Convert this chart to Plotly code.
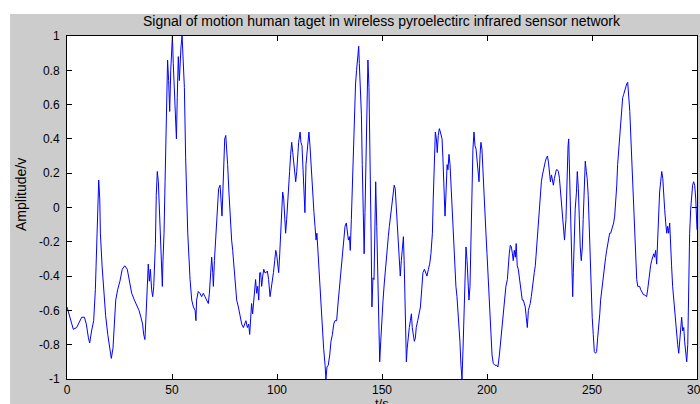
import plotly.graph_objects as go

# time axis (s) and signal amplitude (v)
t_s = [
    0, 1.0, 3.0, 4.6, 7.0, 8.3, 9.2, 10.2, 10.8, 11.7, 12.7, 13.5, 14.0, 14.3, 14.8, 15.1, 15.6, 15.9, 16.7, 17.5,
    18.4, 19.4, 20.3, 21.1, 21.9, 22.5, 23.2, 24.1, 25.2, 26.3, 27.5, 28.7, 29.7, 30.8, 32.1, 33.2, 34.3, 35.2, 36.0, 36.5,
    37.1, 37.6, 38.1, 38.7, 39.2, 39.7, 40.3, 40.8, 41.3, 42.1, 42.5, 43.0, 43.5, 44.0, 44.4, 44.9, 45.4, 45.7, 46.2, 46.7,
    47.0, 47.5, 47.9, 48.4, 48.9, 49.4, 49.8, 50.2, 50.6, 51.1, 51.6, 52.1, 52.5, 53.0, 53.5, 53.8, 54.3, 54.8, 55.4, 55.9,
    56.5, 57.5, 58.6,
    59.4, 60.2, 61.0, 61.4, 61.7, 62.5, 63.3, 64.1, 64.9, 65.7, 66.5, 67.3, 67.8, 68.4, 68.9, 69.4, 69.7, 70.2, 70.6, 71.3,
    71.8, 72.2, 72.9, 73.3, 73.8, 74.1, 74.6, 75.1, 75.6, 76.0, 76.5, 77.1, 77.8, 78.4, 78.9, 79.4, 80.0, 80.8, 81.6, 82.4,
    83.2, 84.0, 84.6, 85.2, 85.9, 86.5, 87.0, 87.4, 87.9, 88.4, 88.9, 89.4, 89.8, 90.3, 90.8, 91.3, 91.8, 92.2, 92.7, 93.2,
    93.7, 94.2, 94.8, 95.4, 96.0, 96.7, 97.2, 97.6, 98.3, 98.9, 99.4, 99.8, 100.3, 100.8, 101.3, 101.7, 102.2, 102.7, 103.2, 103.7,
    104.1, 104.6, 105.1, 105.6, 106.0, 106.5, 107.0, 107.5, 108.0, 108.4, 108.9, 109.4, 109.9, 110.3, 111.0, 111.4, 111.9, 112.4, 112.9, 113.3,
    113.8, 114.3, 114.8, 115.2, 115.7, 116.2, 116.7, 117.1, 117.6, 118.1, 118.6, 119.0,
    119.7, 120.3, 120.9, 121.6, 122.2, 122.9, 123.3, 123.8, 124.4, 125.1, 125.7, 126.4, 127.0, 127.6, 128.4, 129.2, 130.0, 130.8, 131.6, 132.4,
    133.0, 133.5, 134.0, 134.5, 134.9, 135.4, 136.0, 136.5, 137.0, 137.4, 137.9, 138.4, 138.9, 139.2, 139.7, 140.2, 140.6, 141.1, 141.5, 141.9,
    142.4, 142.9, 143.3, 143.8, 144.3, 144.8, 145.2, 145.7, 146.2, 146.7, 147.0, 147.5, 148.0, 148.5, 148.9, 149.4, 149.9, 150.5, 151.1, 151.7,
    152.4, 153.0, 153.5, 153.9, 154.4, 154.9, 155.4, 155.8, 156.3, 156.8, 157.3, 157.8, 158.2, 158.7, 159.2, 159.7, 160.2, 160.6, 161.1, 161.6,
    162.0, 162.5, 163.0, 163.5, 164.0, 164.4, 164.9, 165.4, 165.9, 166.3, 167.0, 167.6, 168.3, 168.9, 169.5, 170.2, 170.8, 171.4, 172.1, 172.7,
    173.3, 174.0, 174.4, 174.9, 175.4, 175.9, 176.3, 176.8, 177.3, 177.8,
    178.6, 179.0, 179.5, 180.0, 180.5, 181.0, 181.4, 181.9, 182.4, 182.9, 183.3, 183.8, 184.3, 184.8, 185.2, 185.7, 186.2, 186.7, 187.1, 187.6,
    188.1, 188.6, 189.0, 189.5, 190.0, 190.5, 191.0, 191.4, 191.9, 192.4, 192.9, 193.3, 193.8, 194.3, 194.8, 195.2, 195.7, 196.2, 196.7, 197.1,
    197.6, 198.1, 198.6, 199.0, 199.5, 200.0, 200.5, 201.0, 201.4, 201.9, 202.4, 203.0, 203.8, 204.6, 205.2, 205.9, 206.5, 207.1, 207.8, 208.4,
    209.0, 209.7, 210.1, 210.6, 211.1, 211.6, 212.1, 212.5, 213.0, 213.5, 213.9, 214.4, 214.9, 215.4, 215.8, 216.3, 216.8, 217.3, 217.8, 218.2,
    218.7, 219.2, 219.7, 220.2, 220.6, 221.1, 221.6, 222.1, 222.5, 223.0, 223.5, 224.0, 224.5, 224.9, 225.4, 225.9, 226.4, 226.8, 227.3, 227.8,
    228.3, 228.8, 229.3, 229.8, 230.2, 230.7, 231.2, 231.6, 232.1, 232.6, 233.0, 233.5, 234.0, 234.5, 235.0, 235.4, 235.9, 236.4, 236.9,
    237.6, 238.1, 238.6, 238.9, 239.2, 239.5, 239.8, 240.1, 240.5, 240.8, 241.1, 241.6, 242.0, 242.6, 243.0, 243.5, 244.0, 244.4, 244.9, 245.4,
    245.8, 246.3, 246.8, 247.3, 247.7, 248.2, 248.7, 249.1, 249.6, 250.1, 250.6, 251.1, 251.7, 252.2, 252.7, 253.2, 253.7, 254.1, 254.6, 255.1,
    255.6, 256.0, 256.5, 257.0, 257.5, 258.0, 258.4, 258.9, 259.4, 259.8, 260.3, 260.8, 261.3, 261.8, 262.2, 262.7, 263.2, 263.7, 264.1, 264.6,
    265.1, 265.6, 266.0, 266.5, 267.0, 267.5, 268.0, 268.4, 268.9, 269.4, 269.9, 270.3, 270.8, 271.3, 271.8, 272.3, 272.7, 273.2, 273.7, 274.1,
    274.6, 275.1, 275.6, 276.0, 276.5, 277.0, 277.5, 277.9, 278.4, 278.9, 279.4, 279.8, 280.3, 280.8, 281.3, 281.7, 282.2, 282.7, 283.2, 283.7,
    284.1, 284.6, 285.1, 285.6, 286.0, 286.5, 287.0, 287.5, 287.9, 288.4, 288.9, 289.4, 289.8, 290.3, 290.8, 291.3, 291.7, 292.2, 292.7, 293.2,
    293.7, 294.1, 294.6, 295.1, 295.6, 296.0, 296.5, 297.0, 297.5, 297.9, 298.4, 298.9, 299.4, 299.8, 300,
]

amplitude = [
    -0.58, -0.62, -0.71, -0.70, -0.64, -0.64, -0.68, -0.76, -0.79, -0.72, -0.66, -0.48, -0.31, -0.13, 0.06, 0.16, 0.05, -0.15, -0.34, -0.48,
    -0.63, -0.74, -0.82, -0.88, -0.82, -0.70, -0.54, -0.48, -0.43, -0.36, -0.34, -0.36, -0.42, -0.50, -0.54, -0.57, -0.60, -0.64, -0.68, -0.74,
    -0.77, -0.64, -0.46, -0.33, -0.43, -0.36, -0.48, -0.52, -0.46, -0.21, 0.07, 0.21, 0.15, -0.01, -0.19, -0.34, -0.46, -0.31, -0.15, 0.15,
    0.34, 0.68, 0.86, 0.74, 0.56, 0.80, 0.98, 1.0, 0.84, 0.66, 0.48, 0.40, 0.64, 0.88, 0.74, 0.84, 0.94, 1.0, 0.80, 0.70,
    0.29, -0.15, -0.42,
    -0.54, -0.58, -0.60, -0.66, -0.54, -0.49, -0.50, -0.52, -0.50, -0.52, -0.54, -0.56, -0.50, -0.34, -0.29, -0.38, -0.46, -0.31, -0.21, -0.03,
    0.07, 0.11, 0.13, 0.07, -0.05, 0.05, 0.25, 0.40, 0.42, 0.36, 0.25, 0.09, -0.09, -0.19, -0.25, -0.34, -0.46, -0.54, -0.58, -0.64,
    -0.68, -0.70, -0.68, -0.66, -0.70, -0.68, -0.74, -0.64, -0.56, -0.62, -0.56, -0.48, -0.42, -0.50, -0.46, -0.54, -0.38, -0.38, -0.46, -0.40,
    -0.36, -0.38, -0.38, -0.37, -0.42, -0.52, -0.48, -0.42, -0.38, -0.31, -0.25, -0.27, -0.33, -0.38, -0.27, -0.15, 0.01, 0.09, 0.05, -0.05,
    -0.15, -0.07, 0.01, 0.11, 0.21, 0.31, 0.38, 0.32, 0.27, 0.22, 0.15, 0.21, 0.31, 0.38, 0.44, 0.38, 0.36, 0.21, 0.07, -0.03,
    0.25, 0.34, 0.38, 0.44, 0.36, 0.25, 0.13, 0.03, -0.03, -0.11, -0.19, -0.15,
    -0.31, -0.42, -0.58, -0.70, -0.82, -0.92, -1.0, -0.93, -0.92, -0.86, -0.78, -0.74, -0.68, -0.66, -0.66, -0.54, -0.42, -0.31, -0.21, -0.11,
    -0.09, -0.15, -0.19, -0.17, -0.25, -0.07, 0.21, 0.44, 0.58, 0.72, 0.80, 0.88, 0.94, 0.84, 0.72, 0.54, 0.25, -0.15, -0.27, -0.03,
    0.38, 0.68, 0.86, 0.70, 0.34, -0.15, -0.58, -0.41, -0.42, -0.09, 0.15, -0.11, -0.41, -0.68, -0.90, -0.78, -0.64, -0.54, -0.44, -0.34,
    -0.23, -0.17, -0.11, -0.07, -0.01, 0.05, 0.09, 0.13, 0.11, 0.01, -0.11, -0.25, -0.34, -0.40, -0.31, -0.23, -0.17, -0.34, -0.70, -0.90,
    -0.82, -0.74, -0.70, -0.66, -0.62, -0.70, -0.76, -0.78, -0.76, -0.70, -0.66, -0.62, -0.58, -0.48, -0.38, -0.36, -0.38, -0.40, -0.36, -0.33,
    -0.27, -0.15, 0.05, 0.25, 0.44, 0.40, 0.32, 0.42, 0.46, 0.44,
    0.40, 0.29, 0.05, -0.05, 0.09, 0.25, 0.22, 0.31, 0.25, 0.13, 0.01, -0.11, -0.27, -0.38, -0.46, -0.52, -0.60, -0.68, -0.78, -0.92,
    -1.0, -0.82, -0.60, -0.34, -0.23, -0.31, -0.48, -0.54, -0.46, -0.17, 0.19, 0.34, 0.44, 0.36, 0.34, 0.29, 0.21, 0.15, 0.31, 0.38,
    0.34, 0.19, 0.05, -0.07, -0.15, -0.27, -0.38, -0.50, -0.64, -0.76, -0.86, -0.91, -0.92, -0.92, -0.93, -0.86, -0.78, -0.68, -0.58, -0.50,
    -0.46, -0.42, -0.34, -0.27, -0.22, -0.23, -0.27, -0.31, -0.25, -0.29, -0.21, -0.34, -0.36, -0.40, -0.46, -0.50, -0.54, -0.54, -0.56, -0.58,
    -0.64, -0.70, -0.60, -0.58, -0.56, -0.52, -0.46, -0.42, -0.38, -0.34, -0.25, -0.17, -0.11, -0.03, 0.05, 0.15, 0.19, 0.22, 0.25, 0.27,
    0.29, 0.30, 0.26, 0.17, 0.15, 0.19, 0.15, 0.13, 0.17, 0.21, 0.22, 0.22, 0.21, 0.17, 0.09, 0.01, -0.07, -0.13, -0.19,
    -0.07, 0.21, 0.36, 0.40, 0.25, 0.13, -0.07, -0.34, -0.38, -0.52, -0.38, -0.15, -0.01, 0.09, 0.21, 0.11, -0.11, -0.23, -0.31, -0.23,
    -0.07, 0.11, 0.27, 0.21, 0.17, 0.07, -0.13, -0.31, -0.46, -0.64, -0.74, -0.84, -0.85, -0.84, -0.76, -0.70, -0.62, -0.54, -0.48, -0.42,
    -0.36, -0.33, -0.29, -0.25, -0.21, -0.17, -0.15, -0.15, -0.13, -0.11, -0.09, -0.05, 0.03, 0.13, 0.25, 0.34, 0.44, 0.52, 0.60, 0.64,
    0.66, 0.68, 0.71, 0.72, 0.73, 0.66, 0.56, 0.44, 0.29, 0.15, 0.01, -0.13, -0.31, -0.42, -0.46, -0.46, -0.46, -0.48, -0.49, -0.50,
    -0.51, -0.51, -0.52, -0.52, -0.48, -0.42, -0.38, -0.34, -0.31, -0.29, -0.27, -0.29, -0.25, -0.33, -0.15, -0.01, 0.09, 0.15, 0.21, 0.17,
    0.07, -0.01, -0.09, -0.15, -0.11, -0.15, -0.09, -0.19, -0.34, -0.46, -0.54, -0.60, -0.66, -0.74, -0.80, -0.85, -0.78, -0.70, -0.64, -0.72,
    -0.70, -0.78, -0.84, -0.90, -0.80, -0.38, -0.15, -0.01, 0.09, 0.13, 0.15, 0.13, 0.05, -0.03, -0.13,
]

assert len(t_s) == len(amplitude), (len(t_s), len(amplitude))

x_ticks = [0, 50, 100, 150, 200, 250, 300]
y_ticks = [-1, -0.8, -0.6, -0.4, -0.2, 0, 0.2, 0.4, 0.6, 0.8, 1]
y_ticktext = ["-1", "-0.8", "-0.6", "-0.4", "-0.2", "0", "0.2", "0.4", "0.6", "0.8", "1"]

title_text = "Signal of motion human taget in wireless pyroelectirc infrared sensor network"
x_label = "t/s"
y_label = "Amplitude/v"

W, H = 700, 404
L, R, T, B = 67, 3, 36, 25
plot_h = H - T - B
plot_w = W - L - R

FONT = "Liberation Sans, Arial, sans-serif"
GRAY = "#cccccc"

fig = go.Figure()
fig.add_trace(go.Scatter(x=t_s, y=amplitude, mode="lines",
                         line=dict(color="#0000ff", width=1), showlegend=False))

axis_common = dict(showgrid=False, zeroline=False, showline=True, linecolor="black", linewidth=1,
                   mirror="ticks", ticks="inside", ticklen=5, tickwidth=1, tickcolor="black",
                   ticklabeloverflow="allow", automargin=False,
                   tickfont=dict(family=FONT, size=12, color="black"))

fig.update_xaxes(range=[0, 300], tickvals=x_ticks, ticktext=[str(v) for v in x_ticks], **axis_common)
fig.update_yaxes(range=[-1, 1], tickvals=y_ticks, ticktext=y_ticktext, ticklabelstandoff=4, **axis_common)

def py(px):
    # pixel row -> paper y
    return (H - B - px) / plot_h

def px_(px):
    return (px - L) / plot_w

fig.update_layout(
    width=W, height=H,
    margin=dict(l=L, r=R, t=T, b=B, autoexpand=False),
    paper_bgcolor=GRAY, plot_bgcolor="white",
    font=dict(family=FONT, size=12, color="black"),
    shapes=[
        dict(type="rect", xref="paper", yref="paper", x0=px_(-5), x1=px_(W + 5), y0=py(14), y1=py(-5),
             fillcolor="white", line=dict(width=0), layer="below"),
        dict(type="rect", xref="paper", yref="paper", x0=px_(-5), x1=px_(10), y0=py(H + 5), y1=py(-5),
             fillcolor="white", line=dict(width=0), layer="below"),
    ],
    annotations=[
        dict(text=title_text, xref="paper", yref="paper", x=0.5, y=py(21), xanchor="center", yanchor="middle",
             showarrow=False, font=dict(family=FONT, size=14, color="black")),
        dict(text=x_label, xref="paper", yref="paper", x=0.5, y=py(403), xanchor="center", yanchor="middle",
             showarrow=False, font=dict(family=FONT, size=13, color="black")),
        dict(text=y_label, xref="paper", yref="paper", x=px_(21), y=py(195), xanchor="center", yanchor="middle",
             textangle=-90, showarrow=False, font=dict(family=FONT, size=14, color="black")),
    ],
)

fig.write_html("out.html")
